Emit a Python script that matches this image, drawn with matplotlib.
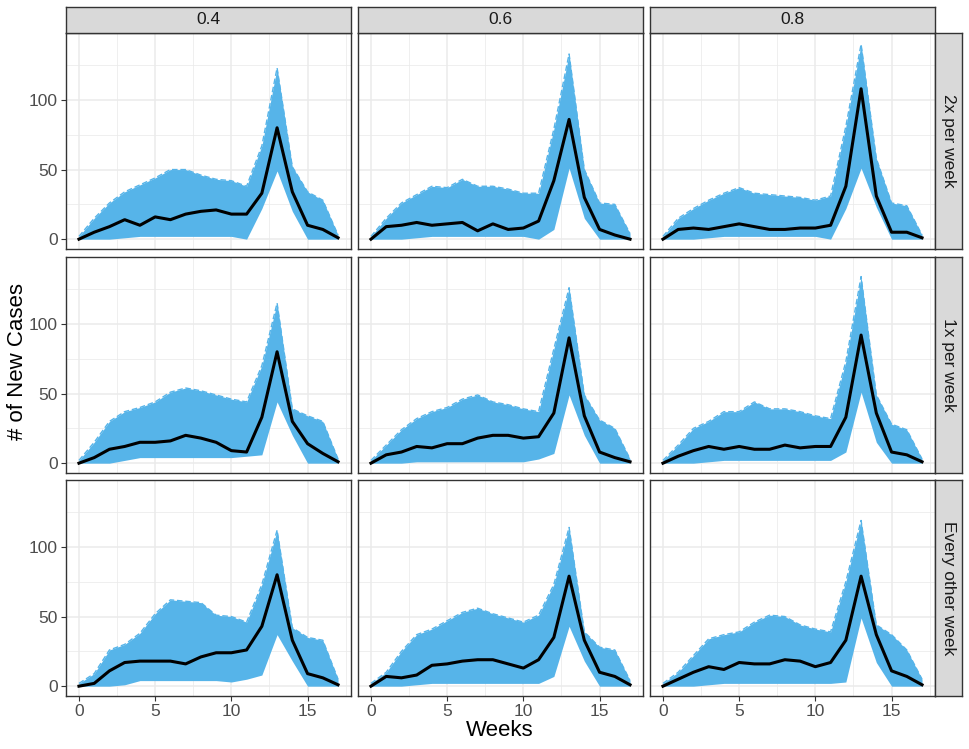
import matplotlib
matplotlib.use("Agg")
import matplotlib.pyplot as plt
from matplotlib.ticker import MultipleLocator

plt.rcParams['font.family'] = ['Liberation Sans', 'DejaVu Sans']

weeks = list(range(18))
col_labels = ["0.4", "0.6", "0.8"]
row_labels = ["2x per week", "1x per week", "Every other week"]
x_ticks = [0, 5, 10, 15]
y_ticks = [0, 50, 100]

# median (black) lines
med_2x_04 = [0, 5, 9, 14, 10, 16, 14, 18, 20, 21, 18, 18, 33, 80, 34, 10, 7, 1]
med_2x_06 = [0, 9, 10, 12, 10, 11, 12, 6, 11, 7, 8, 13, 42, 86, 30, 7, 3, 0]
med_2x_08 = [0, 7, 8, 7, 9, 11, 9, 7, 7, 8, 8, 10, 38, 108, 31, 5, 5, 1]
med_1x_04 = [0, 4, 10, 12, 15, 15, 16, 20, 18, 15, 9, 8, 33, 80, 30, 14, 7, 1]
med_1x_06 = [0, 6, 8, 12, 11, 14, 14, 18, 20, 20, 18, 19, 36, 90, 34, 8, 4, 1]
med_1x_08 = [0, 5, 9, 12, 10, 12, 10, 10, 13, 11, 12, 12, 33, 92, 36, 8, 6, 1]
med_eo_04 = [0, 2, 11, 17, 18, 18, 18, 16, 21, 24, 24, 26, 43, 80, 33, 9, 6, 1]
med_eo_06 = [0, 7, 6, 8, 15, 16, 18, 19, 19, 16, 13, 19, 35, 79, 33, 10, 7, 1]
med_eo_08 = [0, 5, 10, 14, 12, 17, 16, 16, 19, 18, 14, 17, 33, 79, 37, 11, 7, 1]

# upper envelope of simulated trajectories (blue)
up_2x_04 = [2, 15, 26, 34, 39, 44, 50, 50, 46, 43, 42, 38, 67, 123, 52, 34, 28, 3]
up_2x_06 = [2, 15, 26, 32, 38, 37, 43, 38, 38, 36, 33, 33, 79, 133, 50, 26, 25, 4]
up_2x_08 = [2, 15, 22, 28, 33, 37, 33, 32, 31, 30, 28, 31, 81, 140, 58, 26, 24, 3]
up_1x_04 = [2, 15, 30, 37, 40, 44, 51, 54, 52, 49, 46, 44, 70, 115, 39, 34, 30, 3]
up_1x_06 = [2, 13, 24, 32, 37, 40, 46, 49, 44, 42, 39, 37, 82, 126, 49, 31, 25, 3]
up_1x_08 = [2, 13, 25, 30, 37, 37, 44, 39, 39, 37, 34, 32, 73, 134, 49, 28, 24, 3]
up_eo_04 = [2, 9, 26, 30, 38, 52, 62, 61, 60, 51, 50, 46, 73, 112, 42, 35, 33, 5]
up_eo_06 = [2, 10, 25, 37, 41, 47, 53, 56, 52, 49, 46, 51, 73, 114, 39, 28, 26, 4]
up_eo_08 = [2, 10, 22, 34, 37, 39, 46, 51, 50, 44, 41, 39, 75, 119, 44, 37, 26, 5]

# lower envelope of simulated trajectories (blue)
lo_2x_04 = [0, 0, 0, 1, 2, 2, 2, 2, 2, 2, 2, 0, 22, 49, 20, 0, 0, 0]
lo_2x_06 = [0, 0, 0, 1, 2, 2, 2, 2, 2, 2, 2, 0, 7, 51, 15, 0, 0, 0]
lo_2x_08 = [0, 0, 0, 1, 2, 2, 2, 2, 2, 2, 2, 0, 22, 51, 23, 0, 0, 0]
lo_1x_04 = [0, 0, 0, 2, 4, 4, 4, 4, 4, 4, 4, 5, 6, 44, 20, 0, 0, 0]
lo_1x_06 = [0, 0, 0, 1, 1, 1, 1, 1, 1, 1, 1, 3, 7, 49, 20, 0, 0, 0]
lo_1x_08 = [0, 0, 0, 1, 2, 2, 2, 2, 2, 2, 2, 2, 8, 51, 15, 0, 0, 0]
lo_eo_04 = [0, 0, 0, 1, 4, 4, 4, 4, 4, 4, 3, 5, 8, 37, 18, 0, 0, 0]
lo_eo_06 = [0, 0, 0, 1, 2, 2, 2, 2, 2, 2, 2, 2, 7, 43, 18, 0, 0, 0]
lo_eo_08 = [0, 0, 0, 1, 2, 2, 2, 2, 2, 2, 2, 2, 3, 49, 17, 0, 0, 0]

medians = [[med_2x_04, med_2x_06, med_2x_08],
           [med_1x_04, med_1x_06, med_1x_08],
           [med_eo_04, med_eo_06, med_eo_08]]
uppers = [[up_2x_04, up_2x_06, up_2x_08],
          [up_1x_04, up_1x_06, up_1x_08],
          [up_eo_04, up_eo_06, up_eo_08]]
lowers = [[lo_2x_04, lo_2x_06, lo_2x_08],
          [lo_1x_04, lo_1x_06, lo_1x_08],
          [lo_eo_04, lo_eo_06, lo_eo_08]]

W, H = 969, 749
fig = plt.figure(figsize=(W / 100, H / 100), dpi=100)

col_left = [66, 358, 650]
panel_w = 285
row_top = [33, 257, 480]
panel_h = 216
strip_top = 7
strip_right_x = 935
strip_right_w = 27

BLUE = "#56B4E9"
BORDER = "#333333"
GRID = "#EBEBEB"
STRIP_BG = "#D9D9D9"


def rect(l, t, w, h):
    return [l / W, 1 - (t + h) / H, w / W, h / H]


for r in range(3):
    for c in range(3):
        ax = fig.add_axes(rect(col_left[c], row_top[r], panel_w, panel_h))
        ax.set_xlim(-0.85, 17.85)
        ax.set_ylim(-7.05, 148.05)
        ax.xaxis.set_major_locator(MultipleLocator(5))
        ax.xaxis.set_minor_locator(MultipleLocator(2.5))
        ax.yaxis.set_major_locator(MultipleLocator(50))
        ax.yaxis.set_minor_locator(MultipleLocator(25))
        ax.grid(which='major', color=GRID, linewidth=1.1, zorder=0)
        ax.grid(which='minor', color=GRID, linewidth=0.55, zorder=0)
        ax.set_axisbelow(True)
        ax.fill_between(weeks, lowers[r][c], uppers[r][c], color=BLUE,
                        linewidth=0, zorder=2)
        ax.plot(weeks, uppers[r][c], color=BLUE, linewidth=1.0,
                linestyle=(0, (4, 2)), zorder=2)
        ax.plot(weeks, medians[r][c], color="black", linewidth=2.2,
                solid_joinstyle='round', zorder=3)
        for s in ax.spines.values():
            s.set_color(BORDER)
            s.set_linewidth(1.0)
        ax.tick_params(which='minor', length=0)
        ax.tick_params(which='major', direction='out', length=3.5,
                       width=0.8, color=BORDER, labelsize=12.5,
                       labelcolor="#4D4D4D", pad=2.5)
        ax.set_xticks(x_ticks)
        ax.set_yticks(y_ticks)
        if r != 2:
            ax.tick_params(axis='x', length=0, labelbottom=False)
        if c != 0:
            ax.tick_params(axis='y', length=0, labelleft=False)

# top strips
for c in range(3):
    sax = fig.add_axes(rect(col_left[c], strip_top, panel_w, row_top[0] - strip_top))
    sax.set_xticks([]); sax.set_yticks([])
    sax.set_facecolor(STRIP_BG)
    for s in sax.spines.values():
        s.set_color(BORDER); s.set_linewidth(1.0)
    sax.text(0.5, 0.5, col_labels[c], ha='center', va='center',
             fontsize=12.5, color="#1A1A1A", transform=sax.transAxes)

# right strips
for r in range(3):
    sax = fig.add_axes(rect(strip_right_x, row_top[r], strip_right_w, panel_h))
    sax.set_xticks([]); sax.set_yticks([])
    sax.set_facecolor(STRIP_BG)
    for s in sax.spines.values():
        s.set_color(BORDER); s.set_linewidth(1.0)
    sax.text(0.5, 0.5, row_labels[r], ha='center', va='center', rotation=-90,
             fontsize=12.5, color="#1A1A1A", transform=sax.transAxes)

fig.text(500 / W, 1 - 730 / H, "Weeks", ha='center', va='center', fontsize=16)
fig.text(18 / W, 1 - 362 / H, "# of New Cases", ha='center', va='center',
         rotation=90, fontsize=16)

fig.savefig("out.png", dpi=100, facecolor="white")
